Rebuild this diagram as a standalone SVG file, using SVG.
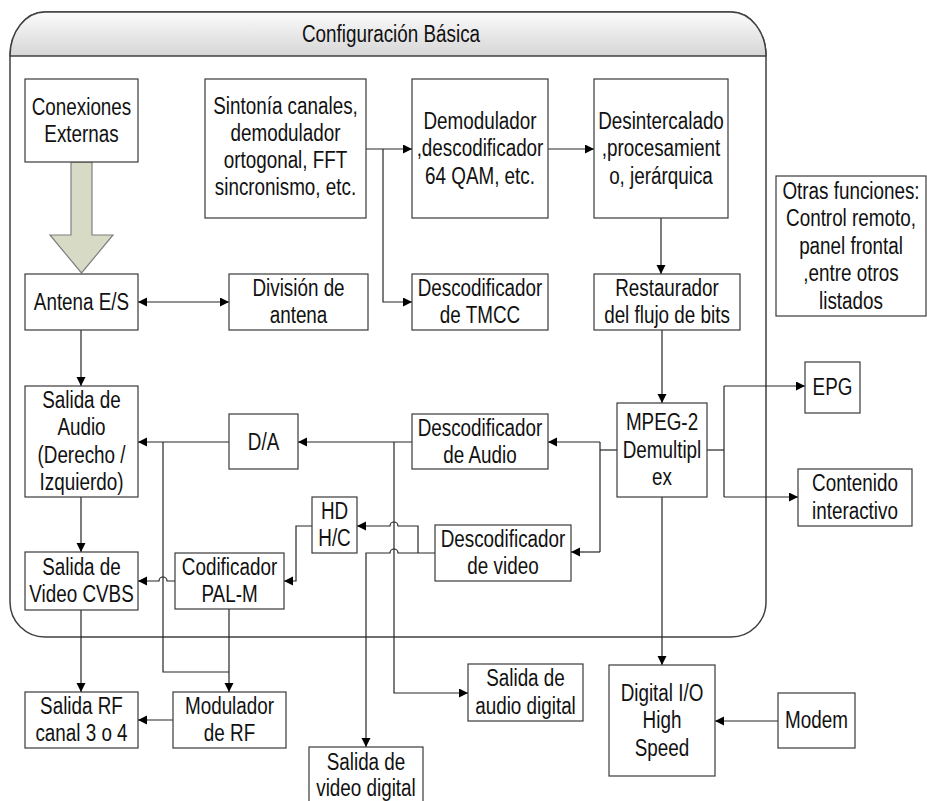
<svg xmlns="http://www.w3.org/2000/svg" width="927" height="801" viewBox="0 0 927 801">
  <style>
    .box { fill: #ffffff; stroke: #3a3a3a; stroke-width: 1.2; }
    .t { font-family: "Liberation Sans", Arial, sans-serif; font-size: 23px; fill: #111111; text-anchor: middle; }
    .w { fill: none; stroke: #262626; stroke-width: 1.2; }
    .a { marker-end: url(#arr); }
    .frame { fill: #ffffff; stroke: #404040; stroke-width: 1.5; }
  </style>
  <defs>
    <marker id="arr" markerUnits="userSpaceOnUse" markerWidth="10" markerHeight="10" refX="9" refY="4.5" orient="auto-start-reverse">
      <path d="M0,0 L9,4.5 L0,9 Z" fill="#000000"/>
    </marker>
    <linearGradient id="titleFill" x1="0" y1="0" x2="0" y2="1">
      <stop offset="0" stop-color="#fbfbfb"/>
      <stop offset="1" stop-color="#d6d6d6"/>
    </linearGradient>
  </defs>

  <!-- outer frame: basic configuration (texts use a condensed horizontal scale) -->
  <g id="configuracion-basica">
    <path class="frame" d="M10,56 A35,44 0 0 1 45,12 L731,12 A35,44 0 0 1 766,56 V602 A35,35 0 0 1 731,637 H45 A35,35 0 0 1 10,602 Z"/>
    <path d="M10,56 A35,44 0 0 1 45,12 L731,12 A35,44 0 0 1 766,56 Z" fill="url(#titleFill)" stroke="#404040" stroke-width="1.5"/>
    <text class="t" transform="translate(391 0) scale(0.82 1)" y="42">Configuración Básica</text>
  </g>

  <!-- connectors -->
  <g id="connectors">
    <polygon points="71,162 92,162 92,235 113,235 81.5,273 50,235 71,235" fill="#d7dbc6" stroke="#7f7f7f" stroke-width="1.2"/>
    <path class="w" d="M138,302 H229" marker-start="url(#arr)" marker-end="url(#arr)"/>
    <path class="w a" d="M366,149 H412"/>
    <path class="w a" d="M383,149 V302 H412"/>
    <path class="w a" d="M548,149 H594"/>
    <path class="w a" d="M661,218 V274"/>
    <path class="w a" d="M662,330 V403"/>
    <path class="w" d="M617,450 H600"/>
    <path class="w a" d="M600,442 H548"/>
    <path class="w" d="M600,442 V552"/>
    <path class="w a" d="M600,552 H571"/>
    <path class="w" d="M707,450 H724"/>
    <path class="w" d="M724,386 V497"/>
    <path class="w a" d="M724,386 H805"/>
    <path class="w a" d="M724,497 H798"/>
    <path class="w a" d="M662,497 V665"/>
    <path class="w a" d="M778,721 H715"/>
    <path class="w a" d="M412,442 H298"/>
    <path class="w a" d="M394,442 V693 H468"/>
    <path class="w a" d="M229,442 H138"/>
    <path class="w" d="M163,442 V672 H229"/>
    <path class="w a" d="M229,609 V692"/>
    <path class="w a" d="M175,581 H167 A4,4 0 0 0 159,581 H138"/>
    <path class="w a" d="M435,553 H398 A4,4 0 0 0 390,553 H366 V747"/>
    <path class="w a" d="M418,553 V526 H398 A4,4 0 0 0 390,526 H357"/>
    <path class="w a" d="M312,526 H296 V581 H284"/>
    <path class="w a" d="M81,330 V386"/>
    <path class="w a" d="M81,497 V552"/>
    <path class="w a" d="M81,610 V692"/>
    <path class="w a" d="M173,720 H138"/>
  </g>

  <!-- nodes -->
  <g id="conexiones-externas">
    <rect class="box" x="25" y="79" width="113" height="83"/>
    <text class="t" transform="translate(81.5 0) scale(0.82 1)" y="115">Conexiones</text>
    <text class="t" transform="translate(81.5 0) scale(0.82 1)" y="142.5">Externas</text>
  </g>
  <g id="sintonia">
    <rect class="box" x="205" y="79" width="161" height="139"/>
    <text class="t" transform="translate(285.5 0) scale(0.82 1)" y="114">Sintonía canales,</text>
    <text class="t" transform="translate(285.5 0) scale(0.82 1)" y="141">demodulador</text>
    <text class="t" transform="translate(285.5 0) scale(0.82 1)" y="168">ortogonal, FFT</text>
    <text class="t" transform="translate(285.5 0) scale(0.82 1)" y="195">sincronismo, etc.</text>
  </g>
  <g id="demodulador">
    <rect class="box" x="412" y="79" width="136" height="139"/>
    <text class="t" transform="translate(480 0) scale(0.82 1)" y="129">Demodulador</text>
    <text class="t" transform="translate(480 0) scale(0.82 1)" y="156.5">,descodificador</text>
    <text class="t" transform="translate(480 0) scale(0.82 1)" y="184">64 QAM, etc.</text>
  </g>
  <g id="desintercalado">
    <rect class="box" x="594" y="79" width="134" height="139"/>
    <text class="t" transform="translate(661 0) scale(0.82 1)" y="129">Desintercalado</text>
    <text class="t" transform="translate(661 0) scale(0.82 1)" y="156.5">,procesamient</text>
    <text class="t" transform="translate(661 0) scale(0.82 1)" y="184">o, jerárquica</text>
  </g>
  <g id="otras-funciones">
    <rect class="box" x="776" y="176" width="150" height="140"/>
    <text class="t" transform="translate(851 0) scale(0.82 1)" y="199">Otras funciones:</text>
    <text class="t" transform="translate(851 0) scale(0.82 1)" y="226.5">Control remoto,</text>
    <text class="t" transform="translate(851 0) scale(0.82 1)" y="254">panel frontal</text>
    <text class="t" transform="translate(851 0) scale(0.82 1)" y="281.5">,entre otros</text>
    <text class="t" transform="translate(851 0) scale(0.82 1)" y="309">listados</text>
  </g>
  <g id="antena">
    <rect class="box" x="25" y="274" width="113" height="56"/>
    <text class="t" transform="translate(81.5 0) scale(0.82 1)" y="310">Antena E/S</text>
  </g>
  <g id="division-antena">
    <rect class="box" x="229" y="274" width="139" height="56"/>
    <text class="t" transform="translate(298.5 0) scale(0.82 1)" y="296">División de</text>
    <text class="t" transform="translate(298.5 0) scale(0.82 1)" y="323.5">antena</text>
  </g>
  <g id="tmcc">
    <rect class="box" x="412" y="274" width="136" height="56"/>
    <text class="t" transform="translate(480 0) scale(0.82 1)" y="296">Descodificador</text>
    <text class="t" transform="translate(480 0) scale(0.82 1)" y="323.5">de TMCC</text>
  </g>
  <g id="restaurador">
    <rect class="box" x="594" y="274" width="146" height="56"/>
    <text class="t" transform="translate(667 0) scale(0.82 1)" y="296">Restaurador</text>
    <text class="t" transform="translate(667 0) scale(0.82 1)" y="323.5">del flujo de bits</text>
  </g>
  <g id="epg">
    <rect class="box" x="805" y="362" width="55" height="51"/>
    <text class="t" transform="translate(832.5 0) scale(0.82 1)" y="395.5">EPG</text>
  </g>
  <g id="salida-audio">
    <rect class="box" x="25" y="386" width="113" height="111"/>
    <text class="t" transform="translate(81.5 0) scale(0.82 1)" y="408">Salida de</text>
    <text class="t" transform="translate(81.5 0) scale(0.82 1)" y="435.5">Audio</text>
    <text class="t" transform="translate(81.5 0) scale(0.82 1)" y="463">(Derecho /</text>
    <text class="t" transform="translate(81.5 0) scale(0.82 1)" y="490.5">Izquierdo)</text>
  </g>
  <g id="da">
    <rect class="box" x="229" y="414" width="69" height="55"/>
    <text class="t" transform="translate(263.5 0) scale(0.82 1)" y="450">D/A</text>
  </g>
  <g id="desc-audio">
    <rect class="box" x="412" y="414" width="136" height="55"/>
    <text class="t" transform="translate(480 0) scale(0.82 1)" y="436">Descodificador</text>
    <text class="t" transform="translate(480 0) scale(0.82 1)" y="463.5">de Audio</text>
  </g>
  <g id="mpeg2">
    <rect class="box" x="617" y="403" width="90" height="94"/>
    <text class="t" transform="translate(662 0) scale(0.82 1)" y="430.5">MPEG-2</text>
    <text class="t" transform="translate(662 0) scale(0.82 1)" y="458">Demultipl</text>
    <text class="t" transform="translate(662 0) scale(0.82 1)" y="485.5">ex</text>
  </g>
  <g id="contenido">
    <rect class="box" x="798" y="469" width="114" height="57"/>
    <text class="t" transform="translate(855 0) scale(0.82 1)" y="491.5">Contenido</text>
    <text class="t" transform="translate(855 0) scale(0.82 1)" y="519">interactivo</text>
  </g>
  <g id="hd-hc">
    <rect class="box" x="312" y="497" width="45" height="56"/>
    <text class="t" transform="translate(334.5 0) scale(0.82 1)" y="519">HD</text>
    <text class="t" transform="translate(334.5 0) scale(0.82 1)" y="546.5">H/C</text>
  </g>
  <g id="desc-video">
    <rect class="box" x="435" y="525" width="136" height="56"/>
    <text class="t" transform="translate(503 0) scale(0.82 1)" y="547">Descodificador</text>
    <text class="t" transform="translate(503 0) scale(0.82 1)" y="574.5">de video</text>
  </g>
  <g id="salida-cvbs">
    <rect class="box" x="25" y="552" width="113" height="58"/>
    <text class="t" transform="translate(81.5 0) scale(0.82 1)" y="575">Salida de</text>
    <text class="t" transform="translate(81.5 0) scale(0.82 1)" y="602.5">Video CVBS</text>
  </g>
  <g id="codificador-palm">
    <rect class="box" x="175" y="553" width="109" height="56"/>
    <text class="t" transform="translate(229.5 0) scale(0.82 1)" y="575">Codificador</text>
    <text class="t" transform="translate(229.5 0) scale(0.82 1)" y="602.5">PAL-M</text>
  </g>
  <g id="salida-audio-digital">
    <rect class="box" x="468" y="664" width="115" height="57"/>
    <text class="t" transform="translate(525.5 0) scale(0.82 1)" y="686.5">Salida de</text>
    <text class="t" transform="translate(525.5 0) scale(0.82 1)" y="714">audio digital</text>
  </g>
  <g id="digital-io">
    <rect class="box" x="609" y="665" width="106" height="111"/>
    <text class="t" transform="translate(662 0) scale(0.82 1)" y="701">Digital I/O</text>
    <text class="t" transform="translate(662 0) scale(0.82 1)" y="728.5">High</text>
    <text class="t" transform="translate(662 0) scale(0.82 1)" y="756">Speed</text>
  </g>
  <g id="modem">
    <rect class="box" x="778" y="693" width="77" height="55"/>
    <text class="t" transform="translate(816.5 0) scale(0.82 1)" y="728.5">Modem</text>
  </g>
  <g id="salida-rf">
    <rect class="box" x="25" y="692" width="113" height="56"/>
    <text class="t" transform="translate(81.5 0) scale(0.82 1)" y="714">Salida RF</text>
    <text class="t" transform="translate(81.5 0) scale(0.82 1)" y="741.5">canal 3 o 4</text>
  </g>
  <g id="modulador-rf">
    <rect class="box" x="173" y="692" width="113" height="56"/>
    <text class="t" transform="translate(229.5 0) scale(0.82 1)" y="714">Modulador</text>
    <text class="t" transform="translate(229.5 0) scale(0.82 1)" y="741.5">de RF</text>
  </g>
  <g id="salida-video-digital">
    <rect class="box" x="309" y="747" width="114" height="59"/>
    <text class="t" transform="translate(366 0) scale(0.82 1)" y="770">Salida de</text>
    <text class="t" transform="translate(366 0) scale(0.82 1)" y="796">video digital</text>
  </g>
</svg>
